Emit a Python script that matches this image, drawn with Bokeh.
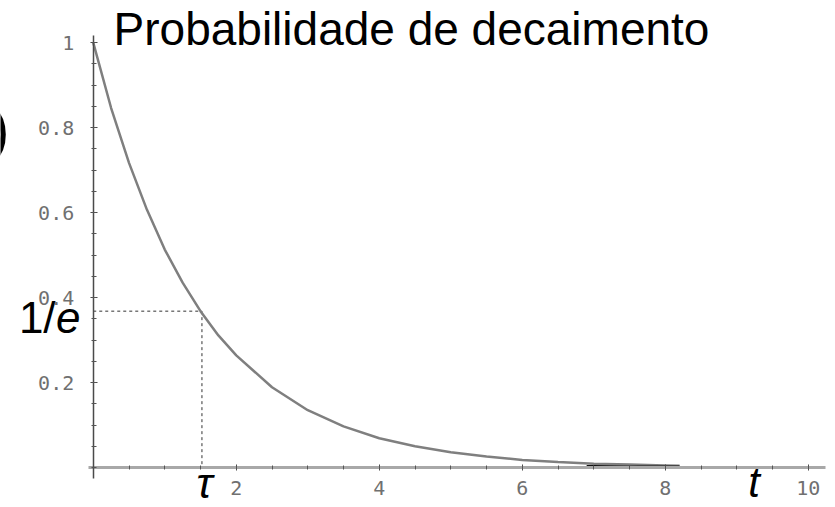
from bokeh.plotting import figure
from bokeh.models import LinearAxis, FixedTicker, Range1d
from bokeh.core.properties import value
from bokeh.embed import file_html
from bokeh.resources import INLINE

# data
t_vals = [0, 0.25, 0.5, 0.75, 1, 1.25, 1.5, 1.75, 2, 2.5, 3, 3.5, 4, 4.5, 5,
          5.5, 6, 6.5, 7, 7.5, 8, 8.2]
p_vals = [1.0, 0.846, 0.717, 0.607, 0.513, 0.435, 0.368, 0.311, 0.264, 0.189,
          0.135, 0.097, 0.069, 0.050, 0.036, 0.026, 0.018, 0.013, 0.009, 0.007,
          0.005, 0.004]
tail_t = [6.9, 7, 7.5, 8, 8.2]
tail_p = [0.003, 0.003, 0.002, 0.002, 0.002]
tau = 1.52
inv_e = 0.368
x_major = [2, 4, 6, 8, 10]
x_minor = [i * 0.5 for i in range(0, 21)]
y_major = [0.2, 0.4, 0.6, 0.8, 1.0]
y_minor = [i * 0.05 for i in range(0, 21)]
title_text = "Probabilidade de decaimento"

p = figure(width=835, height=507, output_backend="svg", toolbar_location=None,
           x_axis_type=None, y_axis_type=None,
           x_range=Range1d(-1.297, 10.38), y_range=Range1d(-0.094, 1.099),
           min_border=0, min_border_left=0, min_border_right=0,
           min_border_top=0, min_border_bottom=0)
p.outline_line_color = None
p.background_fill_color = "white"
p.border_fill_color = "white"

xa = LinearAxis(fixed_location=0, ticker=FixedTicker(ticks=x_major, minor_ticks=x_minor))
xa.bounds = (-0.07, 10.24)
xa.axis_line_color = "#a8a8a8"
xa.axis_line_width = 3
xa.major_tick_line_color = "#444444"
xa.minor_tick_line_color = "#555555"
xa.major_tick_in = 3
xa.major_tick_out = 3
xa.minor_tick_in = 2
xa.minor_tick_out = 2
xa.major_label_standoff = 10
xa.major_label_text_font = "DejaVu Sans Mono"
xa.major_label_text_font_size = "20px"
xa.major_label_text_color = "#707070"
p.add_layout(xa, "below")

ya = LinearAxis(fixed_location=0, ticker=FixedTicker(ticks=y_major, minor_ticks=y_minor))
ya.bounds = (-0.026, 1.016)
ya.axis_line_color = "#4a4a4a"
ya.axis_line_width = 1.5
ya.major_tick_line_color = "#444444"
ya.minor_tick_line_color = "#555555"
ya.major_tick_in = 4
ya.major_tick_out = 3
ya.minor_tick_in = 3
ya.minor_tick_out = 2
ya.major_label_standoff = 16
ya.major_label_text_font = "DejaVu Sans Mono"
ya.major_label_text_font_size = "20px"
ya.major_label_text_color = "#707070"
ya.major_label_overrides = {1: "1", 1.0: "1"}
p.add_layout(ya, "left")

p.grid.visible = False

# dotted guide lines
p.line([0, tau], [inv_e, inv_e], line_color="#333333", line_width=1, line_dash="3 3")
p.line([tau, tau], [inv_e, 0], line_color="#333333", line_width=1, line_dash="3 3")

# decay curve
p.line(t_vals, p_vals, line_color="#7f7f7f", line_width=2.5)
p.line(tail_t, tail_p, line_color="#111111", line_width=2.5)

# texts
font = value("Liberation Sans")
p.text(x=[0.284], y=[1.031], text=[title_text], text_font=font,
       text_font_size="46px", text_color="black", text_baseline="alphabetic",
       text_align="left")
p.text(x=[-1.04], y=[0.353], text=["1/"], text_font=font,
       text_font_size="44px", text_color="black", text_baseline="alphabetic",
       text_align="left")
p.text(x=[-0.52], y=[0.353], text=["e"], text_font=font, text_font_style="italic",
       text_font_size="44px", text_color="black", text_baseline="alphabetic",
       text_align="left")
p.text(x=[1.557], y=[-0.036], text=["τ"], text_font=font, text_font_style="italic",
       text_font_size="43px", text_color="black", text_baseline="alphabetic",
       text_align="center")
p.text(x=[9.24], y=[-0.036], text=["t"], text_font=font, text_font_style="italic",
       text_font_size="42px", text_color="black", text_baseline="alphabetic",
       text_align="center")
p.text(x=[-1.17], y=[0.798], text=[")"], text_font=font,
       text_font_size="62px", text_color="black", text_baseline="alphabetic",
       text_align="right")

open("out.html", "w").write(file_html(p, INLINE))
